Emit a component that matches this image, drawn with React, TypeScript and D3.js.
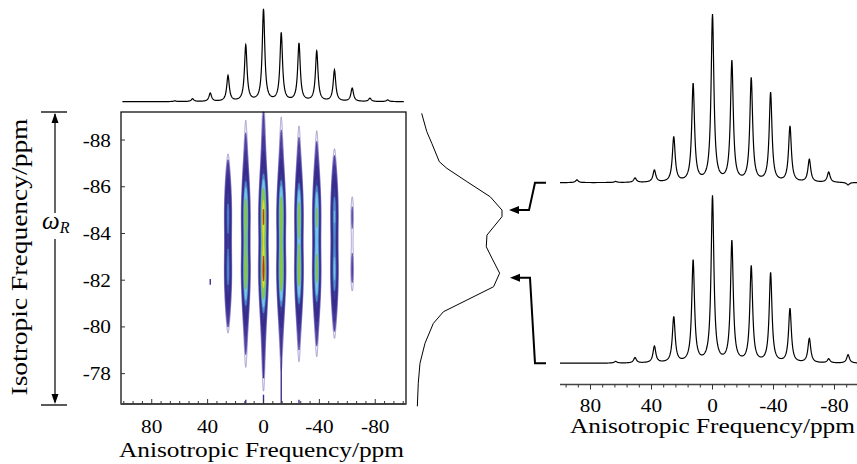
import React, { useMemo } from "react";
import * as d3 from "d3";

// spinning sideband positions, anisotropic dimension (ppm)
const sidebandPpm = [88.9, 76.2, 63.5, 50.8, 38.1, 25.4, 12.7, 0, -12.7, -25.4, -38.1, -50.8, -63.5, -76.2, -88.9];

// 1D spectra, relative peak heights per sideband (max = 100)
const projTopHeights = [0, 0, 0.8, 3, 9, 28, 61, 100, 74, 63, 54.5, 34, 14.5, 3.6, 1.8];
const sliceAHeights = [1.6, 0, 0.6, 2.6, 7.2, 27, 58.6, 100, 72, 62, 53.4, 33.4, 13.6, 6.2, -1.5];
const sliceBHeights = [0, 0, 1, 3.2, 10, 27.5, 61.3, 100, 72.7, 57.8, 53.8, 32.5, 14.6, 2.4, 5];

// 2D contour: sideband amplitudes and isotropic sites
const contourAmps = [0, 0, 0, 0, 0, 0.3, 0.68, 1.0, 0.72, 0.62, 0.56, 0.36, 0.042, 0, 0];
const isoSites = [-84.85, -82.35];
const siteWeights = [0.92, 1.0];
const contourLevels = [0.03, 0.038, 0.06, 0.09, 0.13, 0.18, 0.25, 0.33, 0.5, 0.76, 0.9];

// thin ridges / specks in the 2D map: [aniso ppm, iso from, iso to]
const ridges: [number, number, number][] = [
  [0, -79.6, -77.8],
  [-12.7, -79.7, -76.7],
  [12.7, -76.88, -76.7],
  [0, -77.1, -76.7],
  [-25.4, -76.88, -76.7],
  [38.1, -82.05, -81.8],
];

// isotropic projection (ppm, relative intensity)
const isoProjPpm = [-89.14, -88.36, -87.86, -87.07, -86.79, -86.22, -85.57, -85.0, -84.72, -83.93, -83.43, -82.94, -82.3, -81.72, -81.15, -80.65, -80.15, -79.3, -78.44, -77.59, -76.6];
const isoProjVal = [5.5, 11.5, 17.4, 26.3, 35.1, 58.7, 86.2, 100, 100, 82.3, 81.5, 88.2, 97.2, 90.1, 58.7, 31.1, 19.2, 9.4, 3.5, 1.5, 0.4];

const arrowSites = [-85.0, -82.1];

const isoTicks = [-88, -86, -84, -82, -80, -78];
const anisoLabels = [80, 40, 0, -40, -80];

// line shape parameters (ppm)
const gammaAniso = 1.1;
const sigmaAniso2D = 1.15;
const gammaAniso2D = 1.2;
const lorentzMix2D = 0.22;
const isoSigma = 0.94;
const isoGamma = 1.35;
const isoMix = 0.35;

const FONT = '"Liberation Serif", "Times New Roman", serif';
const box = { left: 121, right: 406, top: 112, bottom: 404 };

const xAniso = d3.scaleLinear().domain([102, -102]).range([box.left, box.right]);
const yIso = d3.scaleLinear().domain([-89.2, -76.7]).range([box.top, box.bottom]);
const xRight = d3.scaleLinear().domain([100, -100]).range([560, 865]);
const yTopProj = d3.scaleLinear().domain([0, 100]).range([101.7, 10]);
const ySliceA = d3.scaleLinear().domain([0, 100]).range([182.7, 16]);
const ySliceB = d3.scaleLinear().domain([0, 100]).range([363.3, 197.3]);
const xIsoProj = d3.scaleLinear().domain([0, 100]).range([417, 502]);

const fills = ["#ffffff", "#4f41a2", "#43379a", "#3b3091", "#382f8e", "#3a3f9a", "#4f8ccf", "#76c8e8", "#8dc840", "#e4e22c", "#c8361f"];
const strokes = ["#a397d0", "#463a9c", "#3f3496", "#362c8c", "#342b8a", "#383a94", "#4a86c6", "#6cbcdc", "#80bb38", "#d6d428", "#b22e1a"];

function spectrum(heights: number[], from: number, to: number) {
  const pts = d3.range(from, to, -0.2).concat(sidebandPpm.filter((p) => p <= from && p >= to));
  pts.sort((a, b) => b - a);
  return pts.map((p) => {
    let v = 0;
    heights.forEach((h, i) => {
      const d = p - sidebandPpm[i];
      v += (h * gammaAniso * gammaAniso) / (gammaAniso * gammaAniso + d * d);
    });
    return [p, v] as [number, number];
  });
}

function Num({ x, y, v, anchor }: { x: number; y: number; v: number; anchor: string }) {
  return (
    <text transform={`translate(${x},${y}) scale(1.12,1)`} fontSize={19} textAnchor={anchor} style={{ fontFamily: FONT }}>
      {v}
    </text>
  );
}

export default function App() {
  const contourPaths = useMemo(() => {
    const nx = 570, ny = 292;
    const dx = (box.right - box.left) / nx;
    const dy = (box.bottom - box.top) / ny;
    const X = new Array(nx).fill(0);
    const Y = new Array(ny).fill(0);
    for (let i = 0; i < nx; i++) {
      const ppm = xAniso.invert(box.left + (i + 0.5) * dx);
      sidebandPpm.forEach((p, k) => {
        const d = ppm - p;
        const g = (1 - lorentzMix2D) * Math.exp(-(d * d) / (2 * sigmaAniso2D ** 2)) + (lorentzMix2D * gammaAniso2D ** 2) / (gammaAniso2D ** 2 + d * d);
        X[i] += contourAmps[k] * g;
      });
    }
    for (let j = 0; j < ny; j++) {
      const ppm = yIso.invert(box.top + (j + 0.5) * dy);
      isoSites.forEach((c, k) => {
        const d = ppm - c;
        Y[j] += siteWeights[k] * ((1 - isoMix) * Math.exp(-(d * d) / (2 * isoSigma ** 2)) + (isoMix * isoGamma ** 2) / (isoGamma ** 2 + d * d));
      });
    }
    const values: number[] = new Array(nx * ny);
    let max = 0;
    for (let j = 0; j < ny; j++)
      for (let i = 0; i < nx; i++) {
        const v = X[i] * Y[j];
        values[j * nx + i] = v;
        if (v > max) max = v;
      }
    for (let k = 0; k < values.length; k++) values[k] /= max;
    const contours = d3.contours().size([nx, ny]).thresholds(contourLevels)(values);
    const proj = d3.geoTransform({
      point(x: number, y: number) {
        (this as any).stream.point(box.left + x * dx, box.top + y * dy);
      },
    });
    const path = d3.geoPath(proj as any);
    return contours.map((c) => path(c as any) || "");
  }, []);

  const lineTop = d3.line<[number, number]>().x((d) => xAniso(d[0])).y((d) => yTopProj(d[1]));
  const lineA = d3.line<[number, number]>().x((d) => xRight(d[0])).y((d) => ySliceA(d[1]));
  const lineB = d3.line<[number, number]>().x((d) => xRight(d[0])).y((d) => ySliceB(d[1]));
  const lineIso = d3.line<number>().x((_, i) => xIsoProj(isoProjVal[i])).y((p) => yIso(p));

  const anisoMinor = d3.range(100, -101, -40 / 6);
  const rightMinor = d3.range(96, -101, -8);

  const yA = yIso(arrowSites[0]);
  const yB = yIso(arrowSites[1]);
  const bA = ySliceA(0);
  const bB = ySliceB(0);

  return (
    <svg width={857} height={464} style={{ position: "absolute", left: 0, top: 0, background: "#fff", fontFamily: FONT }}>
      {/* 1D spectrum above contour */}
      <path d={lineTop(spectrum(projTopHeights, 101, -100.5)) || ""} fill="none" stroke="#000" strokeWidth={1.2} />

      {/* contour map */}
      <g>
        {contourPaths.map((d, i) => (
          <path key={i} d={d} fill={fills[i]} stroke={strokes[i]} strokeWidth={i === 0 ? 1 : 0.6} />
        ))}
        {ridges.map((r, i) => (
          <line key={i} x1={xAniso(r[0])} x2={xAniso(r[0])} y1={yIso(r[1])} y2={yIso(r[2])} stroke="#3d3290" strokeWidth={1.4} />
        ))}
      </g>
      <rect x={box.left} y={box.top} width={box.right - box.left} height={box.bottom - box.top} fill="none" stroke="#111" strokeWidth={1.3} />
      <line x1={box.left} x2={box.right} y1={box.bottom} y2={box.bottom} stroke="#444" strokeWidth={2} />
      {anisoMinor.map((v, i) => {
        const major = Math.abs(v % 40) < 0.01;
        return <line key={i} x1={xAniso(v)} x2={xAniso(v)} y1={box.bottom} y2={box.bottom - (major ? 5 : 3)} stroke="#333" strokeWidth={1} />;
      })}
      {isoTicks.map((v) => (
        <line key={v} x1={box.left} x2={box.left + 4} y1={yIso(v)} y2={yIso(v)} stroke="#333" strokeWidth={1} />
      ))}
      {isoTicks.map((v) => (
        <Num key={v} x={111} y={yIso(v) + 6.5} v={v} anchor="end" />
      ))}
      {anisoLabels.map((v) => (
        <Num key={v} x={xAniso(v)} y={433} v={v} anchor="middle" />
      ))}
      <text x={261.5} y={457} fontSize={20} textAnchor="middle" textLength={285} lengthAdjust="spacingAndGlyphs" style={{ fontFamily: FONT }}>
        Anisotropic Frequency/ppm
      </text>
      <text transform="translate(26.7,257) rotate(-90)" fontSize={22.5} textAnchor="middle" textLength={277} lengthAdjust="spacingAndGlyphs" style={{ fontFamily: FONT }}>
        Isotropic Frequency/ppm
      </text>

      {/* omega_R span */}
      <line x1={55} x2={55} y1={box.top + 2} y2={box.bottom - 2} stroke="#000" strokeWidth={1.2} />
      <line x1={41} x2={67} y1={box.top} y2={box.top} stroke="#000" strokeWidth={1.3} />
      <line x1={41} x2={67} y1={box.bottom + 1} y2={box.bottom + 1} stroke="#000" strokeWidth={1.3} />
      <path d={`M55,${box.top + 1}L51.5,${box.top + 11}L58.5,${box.top + 11}Z`} fill="#000" />
      <path d={`M55,${box.bottom}L51.5,${box.bottom - 10}L58.5,${box.bottom - 10}Z`} fill="#000" />
      <rect x={40} y={213} width={32} height={26} fill="#fff" />
      <text x={42} y={229} fontSize={25} fontStyle="italic" style={{ fontFamily: FONT }}>
        ω<tspan fontSize={16} dy={4}>R</tspan>
      </text>

      {/* isotropic projection */}
      <path d={lineIso(isoProjPpm) || ""} fill="none" stroke="#000" strokeWidth={1} />

      {/* connectors */}
      <path d={`M546,${bA}L535,${bA}L529,${yA}L515,${yA}`} fill="none" stroke="#000" strokeWidth={2} />
      <path d={`M509,${yA}L519,${yA - 4}L519,${yA + 4}Z`} fill="#000" />
      <path d={`M546,${bB}L535,${bB}L530,${yB}L516,${yB}`} fill="none" stroke="#000" strokeWidth={2} />
      <path d={`M510,${yB}L520,${yB - 4}L520,${yB + 4}Z`} fill="#000" />

      {/* slices */}
      <path d={lineA(spectrum(sliceAHeights, 100, -100)) || ""} fill="none" stroke="#000" strokeWidth={1.2} />
      <path d={lineB(spectrum(sliceBHeights, 100, -100)) || ""} fill="none" stroke="#000" strokeWidth={1.2} />

      {/* right axis */}
      <line x1={560} x2={857} y1={384.5} y2={384.5} stroke="#444" strokeWidth={1.6} />
      {rightMinor.map((v) => {
        const major = v % 40 === 0;
        return <line key={v} x1={xRight(v)} x2={xRight(v)} y1={384.5} y2={384.5 + (major ? 5 : 3)} stroke="#333" strokeWidth={1} />;
      })}
      {anisoLabels.map((v) => (
        <Num key={v} x={xRight(v)} y={412} v={v} anchor="middle" />
      ))}
      <text x={712.5} y={433} fontSize={20} textAnchor="middle" textLength={285} lengthAdjust="spacingAndGlyphs" style={{ fontFamily: FONT }}>
        Anisotropic Frequency/ppm
      </text>
    </svg>
  );
}
